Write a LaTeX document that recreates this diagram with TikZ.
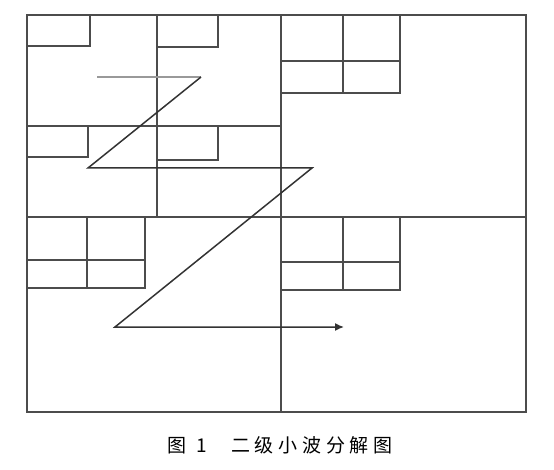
\documentclass[tikz,border=0pt]{standalone}
\usepackage{fontspec}
\newfontfamily\cjk{Noto Sans CJK SC}
\usetikzlibrary{arrows,arrows.meta}
\begin{document}
\begin{tikzpicture}[x=1pt, y=-1pt,
  box/.style={draw=black!70, line width=1.3pt},
  zigzag/.style={draw=black!80, line width=1.5pt}]
\useasboundingbox (0,0) rectangle (554,470);
% outer frame and first level
\draw[box] (27,15) rectangle (526,412);
\draw[box] (281,15) -- (281,412);
\draw[box] (27,217) -- (526,217);
% top left quadrant
\draw[box] (157,15) -- (157,217);
\draw[box] (27,126) -- (281,126);
\draw[box] (27,46) -| (90,15);
\draw[box] (157,47) -| (218,15);
\draw[box] (27,157) -| (88,126);
\draw[box] (157,160) -| (218,126);
% top right quadrant
\draw[box] (281,15) rectangle (400,93);
\draw[box] (343,15) -- (343,93);
\draw[box] (281,61) -- (400,61);
% bottom left quadrant
\draw[box] (27,217) rectangle (145,288);
\draw[box] (87,217) -- (87,288);
\draw[box] (27,260) -- (145,260);
% bottom right quadrant
\draw[box] (281,217) rectangle (400,290);
\draw[box] (343,217) -- (343,290);
\draw[box] (281,262) -- (400,262);
% scan order
\coordinate (z0) at (97,77);
\coordinate (z1) at (201,77);
\coordinate (z2) at (88,168);
\coordinate (z3) at (312,168);
\coordinate (z4) at (115,327);
\coordinate (z5) at (344,327);
\draw[zigzag, draw=black!40] (z0) -- (z1);
\draw[zigzag, -{Latex[length=9pt,width=8pt]}] (z1) -- (z2) -- (z3) -- (z4) -- (z5);
% caption
\node (caption) at (280,445) {\fontsize{19}{21}\selectfont\cjk 图\hspace{10pt}1\hspace{24pt}\addfontfeatures{LetterSpace=25}二级小波分解图};
\end{tikzpicture}
\end{document}
